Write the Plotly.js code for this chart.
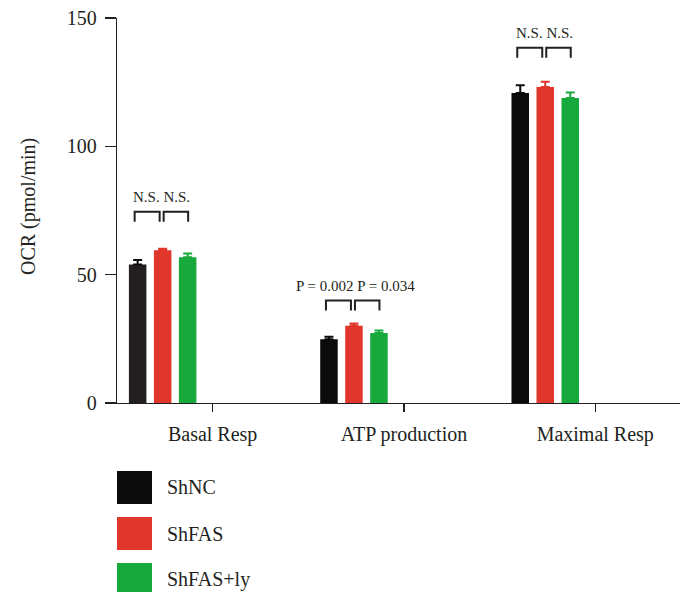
<!DOCTYPE html>
<html>
<head>
<meta charset="utf-8">
<script src="https://cdn.plot.ly/plotly-3.0.1.min.js"></script>
<style>
  html, body { margin: 0; padding: 0; background: #ffffff; }
  #chart { width: 680px; height: 592px; }
</style>
</head>
<body>
<div id="chart"></div>
<script>
// Oxygen consumption rate per respiration parameter
const categories = ['Basal Resp', 'ATP production', 'Maximal Resp'];
const groups = ['ShNC', 'ShFAS', 'ShFAS+ly'];
const shNC = [54.0, 24.8, 120.8];
const shNCErr = [1.7, 1.0, 3.0];
const shFAS = [59.5, 30.1, 123.1];
const shFASErr = [0.6, 0.9, 2.1];
const shFASly = [56.8, 27.3, 118.8];
const shFASlyErr = [1.4, 0.9, 2.2];
const sigLabels = [['N.S.', 'N.S.'], ['P = 0.002', 'P = 0.034'], ['N.S.', 'N.S.']];
const yTicks = [0, 50, 100, 150];

// geometry of the plotting area
const W = 680, H = 592;
const M = { l: 117, r: 0, t: 18, b: 189 };
const plotW = W - M.l - M.r;
const plotH = H - M.t - M.b;
const xRange = [-0.5, 2.443];
const yRange = [0, 150];
const pxX = plotW / (xRange[1] - xRange[0]);   // px per category
const pxY = plotH / (yRange[1] - yRange[0]);   // px per OCR unit

const FONT = 'Liberation Serif, Times New Roman, serif';
const INK = '#231f20';
const colors = ['#0b0b0b', '#e0362b', '#17a93b'];
const blackShades = ['#231f20', '#0b0b0b', '#0b0b0b'];

// bars sit in the left half of each category slot
const barCenters = [-75, -50, -25].map(p => p / pxX);
const barW = 17.5 / pxX;
const xs = categories.map((_, i) => i);

const series = [
  { name: groups[0], y: shNC, err: shNCErr, color: blackShades, errColor: '#0b0b0b' },
  { name: groups[1], y: shFAS, err: shFASErr, color: colors[1], errColor: colors[1] },
  { name: groups[2], y: shFASly, err: shFASlyErr, color: colors[2], errColor: colors[2] }
];

const traces = series.map((s, k) => ({
  type: 'bar',
  name: s.name,
  x: xs,
  y: s.y,
  width: barW,
  offset: barCenters[k] - barW / 2,
  marker: { color: s.color, line: { width: 0 } },
  error_y: {
    type: 'data', symmetric: false, array: s.err,
    arrayminus: s.err.map(() => 0),
    color: s.errColor, thickness: 2, width: 4.5
  },
  showlegend: false,
  hoverinfo: 'skip'
}));

// comparison brackets, placed just above the tallest error bar of each group
const bracketGap = [10.5, 5, 9.3];
const legLen = 10 / pxY;
const bx = [], by = [];
const annotations = [];
categories.forEach((c, i) => {
  const tops = series.map(s => s.y[i] + s.err[i]);
  const level = Math.max(...tops) + bracketGap[i] + legLen;
  const l0 = i + barCenters[0] - 3 / pxX, l1 = i + barCenters[1] - 3 / pxX;
  const r0 = i + barCenters[1] + 1 / pxX, r1 = i + barCenters[2] + 0.5 / pxX;
  [[l0, l1], [r0, r1]].forEach(([a, b]) => {
    bx.push(a, a, b, b, null);
    by.push(level - legLen, level, level, level - legLen, null);
  });
  annotations.push({
    x: (l0 + r1) / 2 + (i === 1 ? 3 / pxX : 0), y: level, xref: 'x', yref: 'y',
    text: sigLabels[i].join(' '), showarrow: false,
    xanchor: 'center', yanchor: 'middle', yshift: 14.5,
    font: { family: FONT, size: 15, color: INK }
  });
});
traces.push({
  type: 'scatter', mode: 'lines', x: bx, y: by,
  line: { color: INK, width: 2 }, connectgaps: false,
  showlegend: false, hoverinfo: 'skip', cliponaxis: false
});

// y-axis title
const toPX = px => (px - M.l) / plotW;
const toPY = py => (M.t + plotH - py) / plotH;
annotations.push({
  xref: 'paper', yref: 'paper', x: toPX(28), y: toPY(207),
  text: 'OCR (pmol/min)', textangle: -90, showarrow: false,
  xanchor: 'center', yanchor: 'middle',
  font: { family: FONT, size: 20, color: INK }
});

// legend swatches below the axis
const shapes = [];
const swatchTop = [471, 517, 563];
groups.forEach((g, k) => {
  shapes.push({
    type: 'rect', xref: 'paper', yref: 'paper',
    x0: toPX(117), x1: toPX(152), y0: toPY(swatchTop[k]), y1: toPY(swatchTop[k] + 33),
    fillcolor: colors[k], line: { width: 0 }
  });
  annotations.push({
    xref: 'paper', yref: 'paper', x: toPX(165), y: toPY(swatchTop[k] + 16.5),
    text: g, showarrow: false, xanchor: 'left', yanchor: 'middle',
    font: { family: FONT, size: 20, color: INK }
  });
});

const layout = {
  width: W, height: H,
  margin: M,
  paper_bgcolor: '#ffffff', plot_bgcolor: '#ffffff',
  barmode: 'overlay',
  showlegend: false,
  font: { family: FONT, size: 20, color: INK },
  xaxis: {
    range: xRange, tickvals: xs, ticktext: categories,
    showline: true, linecolor: INK, linewidth: 1.3,
    ticks: 'outside', ticklen: 8, tickwidth: 1.3, tickcolor: INK,
    showgrid: false, zeroline: false, fixedrange: true,
    ticklabelstandoff: 5,
    tickfont: { family: FONT, size: 20, color: INK }
  },
  yaxis: {
    range: yRange, tickvals: yTicks,
    showline: true, linecolor: INK, linewidth: 1.3,
    ticks: 'outside', ticklen: 11, tickwidth: 1.3, tickcolor: INK,
    showgrid: false, zeroline: false, fixedrange: true,
    ticklabelstandoff: 4,
    tickfont: { family: FONT, size: 20, color: INK }
  },
  shapes: shapes,
  annotations: annotations
};

Plotly.newPlot('chart', traces, layout, { staticPlot: true, displayModeBar: false });
</script>
</body>
</html>
